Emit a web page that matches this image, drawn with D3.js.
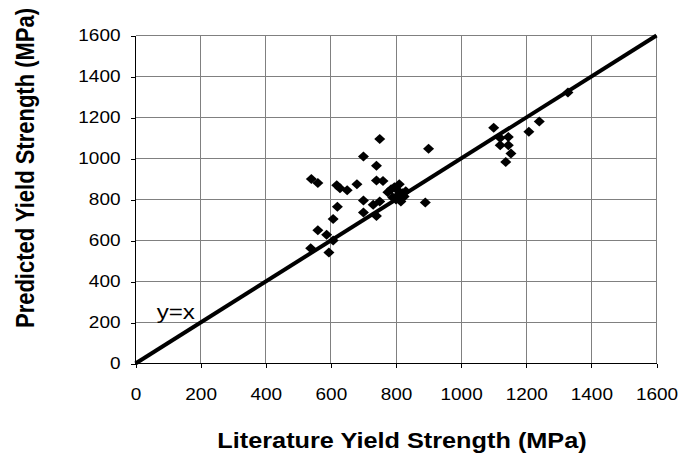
<html>
<style>
  body { margin: 0; background: #fff; }
  svg { display: block; }
  text { font-family: "Liberation Sans", Arial, sans-serif; fill: #000; }
  .grid line { stroke: #808080; stroke-width: 1px; shape-rendering: crispEdges; }
  .axis path, .axis line { stroke: #000; shape-rendering: crispEdges; }
  .axis text { font-size: 16.5px; }
  .title { font-size: 22px; font-weight: bold; }
</style>
<script src="https://d3js.org/d3.v7.min.js"></script>
<body>
<div id="chart"></div>
<script>

// literature vs predicted yield strength (MPa)
const literature = [538, 594, 560, 587, 607, 607, 620, 700, 740, 700, 730, 750,
  540, 560, 618, 628, 650, 680, 740, 760, 700, 740, 750,
  775, 790, 795, 800, 805, 810, 815, 820, 825, 805, 785, 830,
  890, 900,
  1100, 1120, 1145, 1120, 1145, 1153, 1137, 1208, 1240, 1328];
const predicted = [562, 541, 650, 628, 600, 705, 765, 737, 720, 795, 775, 790,
  900, 880, 870, 855, 845, 875, 893, 890, 1010, 965, 1095,
  835, 810, 860, 800, 845, 875, 790, 830, 815, 820, 850, 840,
  785, 1048,
  1150, 1100, 1105, 1065, 1065, 1024, 983, 1130, 1180, 1322];
const ticks = [0, 200, 400, 600, 800, 1000, 1200, 1400, 1600];
const identityLine = [0, 1600];

const W = 678, H = 464;
const margin = {top: 35.5, right: 21.5, bottom: 100.5, left: 135.5};
const sx = 1.15; // the original picture is a bit stretched sideways

const svg = d3.select("#chart").append("svg")
    .attr("width", W).attr("height", H);

const x = d3.scaleLinear().domain([0, 1600]).range([margin.left, W - margin.right]);
const y = d3.scaleLinear().domain([0, 1600]).range([H - margin.bottom, margin.top]);

// gridlines
const grid = svg.append("g").attr("class", "grid");
grid.selectAll(".gx").data(ticks.slice(1)).join("line")
    .attr("x1", d => x(d)).attr("x2", d => x(d))
    .attr("y1", y(0)).attr("y2", y(1600));
grid.selectAll(".gy").data(ticks.slice(1)).join("line")
    .attr("y1", d => y(d)).attr("y2", d => y(d))
    .attr("x1", x(0)).attr("x2", x(1600));

// axes
svg.append("g").attr("class", "axis")
    .attr("transform", "translate(0," + y(0) + ")")
    .call(d3.axisBottom(x).tickValues(ticks).tickFormat(d3.format("d"))
        .tickSize(4).tickSizeOuter(0).tickPadding(21))
    .call(g => g.select(".domain").attr("d", "M" + x(0) + ",0H" + x(1600)))
    .call(g => g.selectAll(".tick text").attr("transform", "scale(" + sx + ",1)"));

svg.append("g").attr("class", "axis")
    .attr("transform", "translate(" + x(0) + ",0)")
    .call(d3.axisLeft(y).tickValues(ticks).tickFormat(d3.format("d"))
        .tickSize(5).tickSizeOuter(0))
    .call(g => g.select(".domain").attr("d", "M0," + y(0) + "V" + y(1600)))
    .call(g => g.selectAll(".tick text")
        .attr("x", -15 / sx)
        .attr("transform", "scale(" + sx + ",1)"));

// y = x line
svg.append("line")
    .attr("x1", x(identityLine[0])).attr("y1", y(identityLine[0]))
    .attr("x2", x(identityLine[1])).attr("y2", y(identityLine[1]))
    .attr("stroke", "#000").attr("stroke-width", 4);

svg.append("text")
    .attr("transform", "translate(" + x(65) + "," + y(218) + ") scale(" + sx + ",1)")
    .style("font-size", "21px")
    .text("y=x");

// diamond markers
const pts = literature.map((d, i) => [d, predicted[i]]);
svg.append("g").selectAll("path").data(pts).join("path")
    .attr("d", "M0,-5L5.5,0L0,5L-5.5,0Z")
    .attr("transform", d => "translate(" + x(d[0]) + "," + y(d[1]) + ")")
    .attr("fill", "#000");

// titles
svg.append("text").attr("class", "title")
    .attr("transform", "translate(402,448) scale(" + sx + ",1)")
    .attr("text-anchor", "middle")
    .text("Literature Yield Strength (MPa)");

svg.append("text").attr("class", "title")
    .attr("transform", "translate(34,168) scale(" + sx + ",1) rotate(-90)")
    .attr("text-anchor", "middle")
    .text("Predicted Yield Strength (MPa)");

</script>
</body>
</html>
